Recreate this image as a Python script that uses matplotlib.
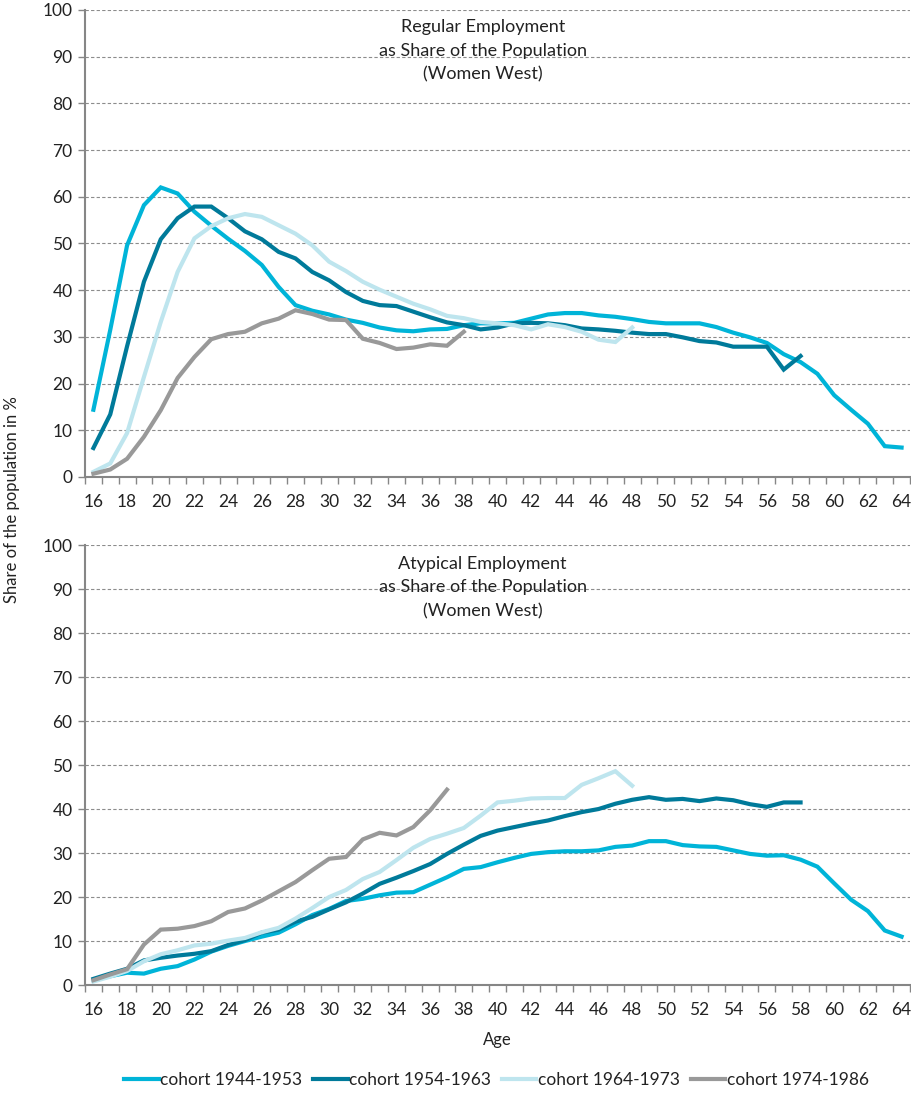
import numpy as np
import matplotlib
matplotlib.use("Agg")
import matplotlib.pyplot as plt
from matplotlib.ticker import MultipleLocator, FixedLocator

plt.rcParams['font.family'] = ['Lato', 'DejaVu Sans']

labels = ["cohort 1944-1953", "cohort 1954-1963", "cohort 1964-1973", "cohort 1974-1986"]
colors = ["#00B4D8", "#007A9A", "#BEE5EE", "#999999"]
start_age = 16

# regular employment, share of population (%), ages from 16
reg_1944 = [14.4, 31.5, 49.6, 58.2, 62.0, 60.7, 56.8, 53.8, 51.0, 48.4,
            45.4, 40.7, 36.8, 35.6, 34.8, 33.7, 33.0, 32.0, 31.4, 31.2,
            31.6, 31.7, 32.5, 32.9, 32.9, 33.0, 33.9, 34.8, 35.1, 35.1,
            34.6, 34.3, 33.8, 33.2, 32.9, 32.9, 32.9, 32.1, 30.9, 29.9,
            28.7, 26.3, 24.6, 22.1, 17.5, 14.4, 11.4, 6.6, 6.3]
reg_1954 = [6.2, 13.4, 28.0, 41.8, 50.9, 55.4, 57.9, 57.9, 55.4, 52.6,
            50.9, 48.2, 46.8, 43.9, 42.1, 39.6, 37.7, 36.8, 36.6, 35.4,
            34.2, 33.1, 32.5, 31.6, 32.0, 32.9, 33.0, 32.9, 32.5, 31.8,
            31.6, 31.3, 30.9, 30.6, 30.6, 29.9, 29.1, 28.8, 27.9, 27.9,
            27.9, 23.0, 25.9]
reg_1964 = [1.1, 2.9, 9.4, 21.4, 33.2, 43.9, 51.1, 53.7, 55.4, 56.3,
            55.7, 53.9, 52.1, 49.6, 46.1, 44.1, 41.8, 40.1, 38.6, 37.1,
            35.9, 34.5, 34.0, 33.2, 32.9, 32.5, 31.6, 32.7, 32.1, 31.1,
            29.4, 28.9, 32.0]
reg_1974 = [0.7, 1.6, 3.9, 8.6, 14.3, 21.2, 25.7, 29.5, 30.6, 31.1,
            32.9, 33.9, 35.7, 34.9, 33.7, 33.6, 29.6, 28.7, 27.4, 27.7,
            28.4, 28.1, 31.1]

# atypical employment, share of population (%), ages from 16
aty_1944 = [1.1, 2.0, 2.8, 2.6, 3.7, 4.3, 5.8, 7.6, 8.9, 10.0,
            11.0, 11.9, 13.8, 15.9, 17.3, 19.1, 19.6, 20.4, 21.0, 21.1,
            22.8, 24.5, 26.4, 26.8, 27.9, 28.9, 29.8, 30.2, 30.4, 30.4,
            30.6, 31.4, 31.7, 32.7, 32.7, 31.8, 31.5, 31.4, 30.6, 29.8,
            29.4, 29.5, 28.5, 26.9, 23.1, 19.4, 16.8, 12.4, 11.0]
aty_1954 = [1.4, 2.6, 3.7, 5.6, 6.2, 6.7, 7.1, 7.7, 9.1, 10.2,
            11.9, 12.6, 14.4, 15.5, 17.2, 18.8, 20.8, 23.0, 24.4, 25.9,
            27.5, 29.8, 31.9, 33.9, 35.1, 35.9, 36.7, 37.4, 38.4, 39.3,
            40.0, 41.2, 42.1, 42.7, 42.1, 42.3, 41.8, 42.4, 42.0, 41.1,
            40.5, 41.5, 41.5]
aty_1964 = [0.8, 1.9, 3.2, 5.4, 7.0, 7.9, 9.0, 9.4, 10.1, 10.7,
            12.0, 13.0, 15.1, 17.5, 20.0, 21.6, 24.1, 25.7, 28.4, 31.2,
            33.2, 34.4, 35.7, 38.5, 41.5, 41.9, 42.4, 42.5, 42.5, 45.5,
            47.0, 48.6, 45.3]
aty_1974 = [1.1, 2.4, 3.6, 9.2, 12.6, 12.8, 13.4, 14.5, 16.6, 17.4,
            19.2, 21.3, 23.4, 26.1, 28.7, 29.1, 33.1, 34.6, 34.0, 35.9,
            39.7, 44.4]

titles = ["Regular Employment\nas Share of the Population\n(Women West)",
          "Atypical Employment\nas Share of the Population\n(Women West)"]

fig = plt.figure(figsize=(9.11, 10.94), dpi=100)
ax1 = fig.add_axes([0.0933, 0.564, 0.9056, 0.4269])
ax2 = fig.add_axes([0.0933, 0.0996, 0.9056, 0.4022])

panels = [(ax1, [reg_1944, reg_1954, reg_1964, reg_1974], titles[0], 0.981),
          (ax2, [aty_1944, aty_1954, aty_1964, aty_1974], titles[1], 0.976)]

axis_grey = "#868686"
for ax, series, title, ty in panels:
    for vals, col, lab in zip(series, colors, labels):
        ages = np.arange(start_age, start_age + len(vals))
        ax.plot(ages, vals, color=col, lw=3, label=lab, solid_joinstyle='miter')
    ax.set_xlim(15.5, 64.5)
    ax.set_ylim(0, 100)
    ax.yaxis.set_major_locator(MultipleLocator(10))
    ax.xaxis.set_major_locator(FixedLocator(np.arange(16, 65, 2)))
    ax.xaxis.set_minor_locator(FixedLocator(np.arange(15.5, 65, 1)))
    ax.grid(axis='y', color='#8c8c8c', ls=(0, (3, 2)), lw=0.8)
    ax.set_axisbelow(True)
    for s in ['top', 'right']:
        ax.spines[s].set_visible(False)
    for s in ['left', 'bottom']:
        ax.spines[s].set_color(axis_grey)
        ax.spines[s].set_linewidth(1.5)
    ax.tick_params(axis='y', length=5, color=axis_grey, width=1, labelsize=12.5,
                   labelcolor='#222222', pad=4)
    ax.tick_params(axis='x', which='major', length=0, labelsize=12.5,
                   labelcolor='#222222', pad=12)
    ax.tick_params(axis='x', which='minor', length=5, color=axis_grey, width=1)
    ax.text(0.482, ty, title, transform=ax.transAxes, ha='center', va='top',
            fontsize=13, color='#222222', linespacing=1.6)

ax2.set_xlabel("Age", fontsize=12, color='#222222', labelpad=10)
fig.text(12 / 911, 1 - 500 / 1094, "Share of the population in %", rotation=90,
         ha='center', va='center', fontsize=12, color='#222222')

handles, labs = ax1.get_legend_handles_labels()
fig.legend(handles, labs, loc='center', bbox_to_anchor=(0.545, 1 - 1080 / 1094),
           ncol=4, frameon=False, fontsize=12.5, handlelength=2.0, handletextpad=0.1,
           columnspacing=0.6, labelcolor='#222222')

fig.savefig("out.png", dpi=100)
